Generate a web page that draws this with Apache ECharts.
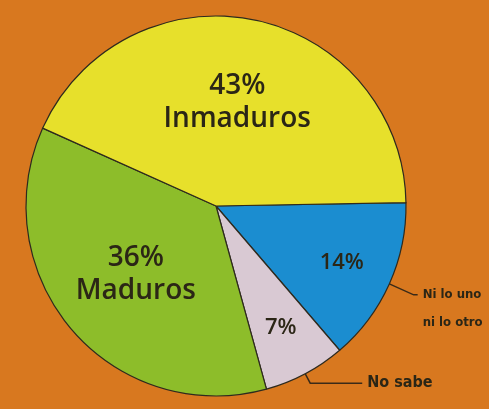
<!DOCTYPE html>
<html><head><meta charset="utf-8">
<script src="https://cdn.jsdelivr.net/npm/echarts@6/dist/echarts.min.js"></script>
<style>html,body{margin:0;padding:0;background:#d8781f}#c{width:489px;height:409px}</style>
</head><body><div id="c"></div>
<script>
const categories = ['Ni lo uno\nni lo otro', 'No sabe', 'Maduros', 'Inmaduros'];
const values = [14, 7, 36, 43];
const colors = ['#1b8dd0', '#d9c9d3', '#8dbd2a', '#e7e02b'];
const showName = [false, false, true, true];
const outside = [true, true, false, false];

const chart = echarts.init(document.getElementById('c'), null, {renderer: 'canvas'});
const C = [216, 206], R = 190;
const txt = '#2b2616';
const lineLen = [[40, 4], [24, 52], [0, 0], [0, 0]];
const outFont = [[13, 28], [16, 20], [13, 20], [13, 20]];
const lead = ['\n', '', '', ''];
chart.setOption({
  backgroundColor: '#d8781f',
  animation: false,
  series: [
    {
      type: 'pie', center: C, radius: [0, R], startAngle: 1, clockwise: true,
      silent: true,
      itemStyle: {borderColor: '#2e2a1e', borderWidth: 1.2},
      label: {show: false},
      labelLine: {show: false},
      data: categories.map((c, i) => ({name: c, value: values[i], itemStyle: {color: colors[i]}}))
    },
    {
      type: 'pie', center: C, radius: [R * 0.08, R], startAngle: 1, clockwise: true, silent: true,
      itemStyle: {color: 'rgba(0,0,0,0)'},
      label: {show: true, position: 'inside', color: txt, fontFamily: 'Open Sans', fontWeight: 600, fontSize: 28, lineHeight: 33,
        formatter: p => showName[p.dataIndex] ? p.value + '%\n' + p.name : ''},
      labelLine: {show: false},
      data: categories.map((c, i) => ({name: c, value: values[i]}))
    },
    {
      type: 'pie', center: C, radius: [R * 0.42, R], startAngle: 1, clockwise: true, silent: true,
      itemStyle: {color: 'rgba(0,0,0,0)'},
      label: {show: true, position: 'inside', color: txt, fontFamily: 'Open Sans', fontWeight: 600, fontSize: 22,
        formatter: p => showName[p.dataIndex] ? '' : p.value + '%'},
      labelLine: {show: false},
      data: categories.map((c, i) => ({name: c, value: values[i]}))
    },
    {
      type: 'pie', center: C, radius: [0, R * 0.93], startAngle: 1, clockwise: true, silent: true,
      itemStyle: {color: 'rgba(0,0,0,0)'},
      label: {show: true, position: 'outside', color: txt, fontFamily: '"DejaVu Sans Condensed", "Liberation Sans", sans-serif',
        fontWeight: 'bold', overflow: 'none',
        formatter: p => outside[p.dataIndex] ? lead[p.dataIndex] + p.name : ''},
      labelLine: {show: true, lineStyle: {color: '#3a2a18', width: 1.5}},
      data: categories.map((c, i) => ({name: c, value: values[i],
        label: {fontSize: outFont[i][0], lineHeight: outFont[i][1]},
        labelLine: {show: outside[i], length: lineLen[i][0], length2: lineLen[i][1]}}))
    }
  ]
});
</script></body></html>
